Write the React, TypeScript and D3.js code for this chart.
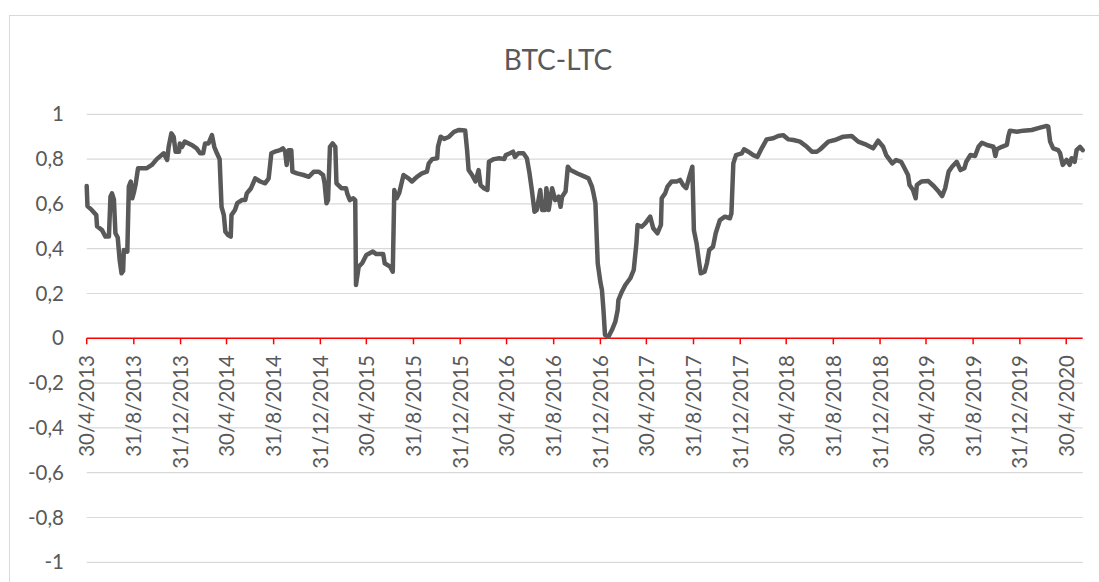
import React from "react";
import * as d3 from "d3";

const W = 1099;
const H = 582;

const title = "BTC-LTC";

const yTicks = [-1, -0.8, -0.6, -0.4, -0.2, 0, 0.2, 0.4, 0.6, 0.8, 1];

const xTickDates = [
  "2013-04-30", "2013-08-31", "2013-12-31", "2014-04-30", "2014-08-31", "2014-12-31",
  "2015-04-30", "2015-08-31", "2015-12-31", "2016-04-30", "2016-08-31", "2016-12-31",
  "2017-04-30", "2017-08-31", "2017-12-31", "2018-04-30", "2018-08-31", "2018-12-31",
  "2019-04-30", "2019-08-31", "2019-12-31", "2020-04-30",
];

const domainDates = ["2013-04-30", "2020-06-12"];

const btcLtc: [string, number][] = [
  ["2013-04-30", 0.68], ["2013-05-02", 0.59], ["2013-05-13", 0.573], ["2013-05-25", 0.55], ["2013-05-27", 0.5],
  ["2013-06-09", 0.483], ["2013-06-18", 0.454], ["2013-06-27", 0.454], ["2013-07-01", 0.632], ["2013-07-05", 0.647],
  ["2013-07-10", 0.62], ["2013-07-14", 0.469], ["2013-07-20", 0.45], ["2013-07-25", 0.35], ["2013-07-30", 0.29],
  ["2013-08-03", 0.3], ["2013-08-05", 0.394], ["2013-08-14", 0.387], ["2013-08-18", 0.677], ["2013-08-23", 0.7],
  ["2013-08-27", 0.625],
  ["2013-08-31", 0.65], ["2013-09-05", 0.69], ["2013-09-11", 0.759], ["2013-10-03", 0.759], ["2013-10-17", 0.774],
  ["2013-10-30", 0.8], ["2013-11-17", 0.826], ["2013-11-26", 0.796], ["2013-11-30", 0.855], ["2013-12-07", 0.915],
  ["2013-12-13", 0.9], ["2013-12-18", 0.833], ["2013-12-27", 0.833], ["2013-12-29", 0.87],
  ["2014-01-04", 0.855], ["2014-01-11", 0.878], ["2014-01-29", 0.863], ["2014-02-11", 0.848], ["2014-02-20", 0.826],
  ["2014-02-28", 0.826], ["2014-03-05", 0.87], ["2014-03-14", 0.87], ["2014-03-23", 0.907], ["2014-03-29", 0.855],
  ["2014-04-05", 0.826], ["2014-04-12", 0.8], ["2014-04-17", 0.587], ["2014-04-23", 0.55], ["2014-04-27", 0.476],
  ["2014-05-04", 0.461], ["2014-05-11", 0.454], ["2014-05-13", 0.55], ["2014-05-22", 0.573], ["2014-05-28", 0.603],
  ["2014-06-09", 0.617], ["2014-06-18", 0.617], ["2014-06-22", 0.647], ["2014-07-03", 0.67], ["2014-07-14", 0.714],
  ["2014-07-27", 0.7], ["2014-08-09", 0.692], ["2014-08-18", 0.714], ["2014-08-25", 0.826],
  ["2014-09-03", 0.833], ["2014-09-17", 0.84], ["2014-09-24", 0.848], ["2014-09-30", 0.833], ["2014-10-04", 0.774],
  ["2014-10-09", 0.84], ["2014-10-16", 0.84], ["2014-10-19", 0.744], ["2014-10-31", 0.736], ["2014-11-17", 0.729],
  ["2014-12-01", 0.721], ["2014-12-14", 0.744], ["2014-12-27", 0.744],
  ["2015-01-07", 0.729], ["2015-01-11", 0.692], ["2015-01-16", 0.603], ["2015-01-20", 0.617], ["2015-01-25", 0.855],
  ["2015-02-01", 0.87], ["2015-02-08", 0.855], ["2015-02-11", 0.692], ["2015-02-24", 0.67], ["2015-03-08", 0.67],
  ["2015-03-11", 0.647], ["2015-03-18", 0.617], ["2015-03-27", 0.625], ["2015-04-01", 0.617], ["2015-04-03", 0.238],
  ["2015-04-10", 0.32], ["2015-04-19", 0.335],
  ["2015-04-30", 0.372], ["2015-05-17", 0.387], ["2015-05-26", 0.376], ["2015-06-13", 0.376], ["2015-06-17", 0.335],
  ["2015-07-01", 0.32], ["2015-07-08", 0.297], ["2015-07-12", 0.662], ["2015-07-18", 0.625], ["2015-07-25", 0.65],
  ["2015-08-05", 0.729], ["2015-08-18", 0.714], ["2015-08-27", 0.7],
  ["2015-09-09", 0.721], ["2015-09-22", 0.736], ["2015-10-05", 0.744], ["2015-10-10", 0.781], ["2015-10-19", 0.8],
  ["2015-11-01", 0.804], ["2015-11-03", 0.855], ["2015-11-10", 0.9], ["2015-11-19", 0.89], ["2015-12-02", 0.9],
  ["2015-12-15", 0.922], ["2015-12-28", 0.93],
  ["2016-01-13", 0.928], ["2016-01-18", 0.84], ["2016-01-22", 0.751], ["2016-01-31", 0.729], ["2016-02-09", 0.7],
  ["2016-02-17", 0.751], ["2016-02-22", 0.684], ["2016-03-02", 0.67], ["2016-03-11", 0.662], ["2016-03-15", 0.788],
  ["2016-03-28", 0.8], ["2016-04-11", 0.804], ["2016-04-24", 0.8], ["2016-04-28", 0.818],
  ["2016-05-09", 0.826], ["2016-05-17", 0.833], ["2016-05-22", 0.81], ["2016-05-31", 0.826], ["2016-06-13", 0.826],
  ["2016-06-22", 0.804], ["2016-06-29", 0.736], ["2016-07-05", 0.662], ["2016-07-12", 0.565], ["2016-07-18", 0.573],
  ["2016-07-27", 0.662], ["2016-08-01", 0.573], ["2016-08-09", 0.573], ["2016-08-12", 0.67], ["2016-08-18", 0.573],
  ["2016-08-27", 0.67],
  ["2016-09-04", 0.617], ["2016-09-13", 0.632], ["2016-09-18", 0.587], ["2016-09-22", 0.632], ["2016-10-01", 0.655],
  ["2016-10-07", 0.766], ["2016-10-14", 0.751], ["2016-11-01", 0.736], ["2016-11-17", 0.724], ["2016-11-30", 0.714],
  ["2016-12-09", 0.677], ["2016-12-13", 0.647], ["2016-12-18", 0.603], ["2016-12-24", 0.335], ["2016-12-31", 0.25],
  ["2017-01-04", 0.216], ["2017-01-08", 0.126], ["2017-01-12", 0.015], ["2017-01-21", 0.007], ["2017-01-30", 0.037],
  ["2017-02-08", 0.074], ["2017-02-14", 0.126], ["2017-02-16", 0.171], ["2017-02-25", 0.208], ["2017-03-06", 0.238],
  ["2017-03-19", 0.268], ["2017-03-28", 0.305], ["2017-04-04", 0.424], ["2017-04-07", 0.506], ["2017-04-18", 0.498],
  ["2017-04-27", 0.513],
  ["2017-05-10", 0.543], ["2017-05-18", 0.491], ["2017-05-29", 0.469], ["2017-06-07", 0.506], ["2017-06-09", 0.625],
  ["2017-06-18", 0.647], ["2017-06-24", 0.677], ["2017-07-05", 0.7], ["2017-07-18", 0.7], ["2017-07-27", 0.707],
  ["2017-08-04", 0.684], ["2017-08-12", 0.67], ["2017-08-20", 0.721], ["2017-08-28", 0.766],
  ["2017-09-01", 0.483], ["2017-09-08", 0.424], ["2017-09-15", 0.335], ["2017-09-19", 0.29], ["2017-09-29", 0.297],
  ["2017-10-05", 0.335], ["2017-10-11", 0.394], ["2017-10-21", 0.409], ["2017-10-28", 0.469], ["2017-11-08", 0.528],
  ["2017-11-21", 0.543], ["2017-12-04", 0.536], ["2017-12-08", 0.558], ["2017-12-13", 0.781], ["2017-12-20", 0.818],
  ["2018-01-04", 0.826], ["2018-01-10", 0.844], ["2018-01-21", 0.833], ["2018-02-03", 0.818], ["2018-02-14", 0.81],
  ["2018-02-25", 0.848], ["2018-03-10", 0.888], ["2018-03-27", 0.893], ["2018-04-09", 0.903], ["2018-04-22", 0.907],
  ["2018-05-06", 0.888], ["2018-05-19", 0.885], ["2018-06-05", 0.878], ["2018-06-23", 0.855], ["2018-07-06", 0.833],
  ["2018-07-19", 0.833], ["2018-07-28", 0.844], ["2018-08-18", 0.878],
  ["2018-09-04", 0.885], ["2018-09-26", 0.9], ["2018-10-18", 0.903], ["2018-11-04", 0.878], ["2018-11-21", 0.867],
  ["2018-12-13", 0.848], ["2018-12-26", 0.882],
  ["2019-01-08", 0.855], ["2019-01-16", 0.818], ["2019-02-01", 0.781], ["2019-02-11", 0.796], ["2019-02-24", 0.788],
  ["2019-03-05", 0.759], ["2019-03-14", 0.729], ["2019-03-18", 0.684], ["2019-03-27", 0.662], ["2019-04-03", 0.625],
  ["2019-04-06", 0.684], ["2019-04-18", 0.7],
  ["2019-05-06", 0.702], ["2019-05-20", 0.68], ["2019-06-02", 0.655], ["2019-06-11", 0.635], ["2019-06-19", 0.67],
  ["2019-06-28", 0.744], ["2019-07-07", 0.766], ["2019-07-19", 0.788], ["2019-07-29", 0.751], ["2019-08-08", 0.759],
  ["2019-08-13", 0.788], ["2019-08-24", 0.818],
  ["2019-09-05", 0.814], ["2019-09-14", 0.855], ["2019-09-23", 0.873], ["2019-10-06", 0.863], ["2019-10-23", 0.855],
  ["2019-10-28", 0.814], ["2019-11-01", 0.844], ["2019-11-14", 0.855], ["2019-11-27", 0.863], ["2019-12-01", 0.903],
  ["2019-12-05", 0.927], ["2019-12-23", 0.922],
  ["2020-01-09", 0.927], ["2020-01-31", 0.93], ["2020-02-17", 0.938], ["2020-03-10", 0.948], ["2020-03-14", 0.945],
  ["2020-03-19", 0.878], ["2020-03-27", 0.848], ["2020-04-09", 0.84], ["2020-04-14", 0.826], ["2020-04-21", 0.774],
  ["2020-05-01", 0.796], ["2020-05-09", 0.774], ["2020-05-14", 0.804], ["2020-05-22", 0.788], ["2020-05-27", 0.84],
  ["2020-06-05", 0.855], ["2020-06-12", 0.84],
];

const parse = d3.timeParse("%Y-%m-%d");
const fmtTick = d3.timeFormat("%-d/%-m/%Y");
const fmtY = d3
  .formatLocale({ decimal: ",", thousands: ".", grouping: [3], currency: ["", "€"], minus: "-" })
  .format("~g");

const FONT = "Lato, 'Open Sans', sans-serif";
const TEXT = "#595959";
const GRID = "#d9d9d9";

export default function App() {
  const x = d3
    .scaleTime()
    .domain(domainDates.map((d) => parse(d) as Date))
    .range([86.7, 1082.7]);
  const y = d3.scaleLinear().domain([-1, 1]).range([562.3, 114.3]);

  const pts = btcLtc.map(([d, v]) => [parse(d) as Date, v] as [Date, number]);
  const line = d3
    .line<[Date, number]>()
    .x((d) => x(d[0]))
    .y((d) => y(d[1]));

  const [x0, x1] = x.range();
  const zeroY = y(0);

  return (
    <svg
      width={W}
      height={H}
      style={{ position: "absolute", left: 0, top: 0, background: "#fff" }}
    >
      <rect x={0} y={0} width={W} height={H} fill="#fff" />
      <rect x={9.5} y={15.5} width={1120} height={620} fill="#fff" stroke={GRID} strokeWidth={1} />
      <text
        x={558}
        y={69.5}
        textAnchor="middle"
        fontFamily={FONT}
        fontSize={28}
        fill={TEXT}
      >
        {title}
      </text>
      {yTicks.map((t) => (
        <g key={t}>
          {t !== 0 && (
            <line x1={x0} x2={x1} y1={y(t)} y2={y(t)} stroke={GRID} strokeWidth={1.2} />
          )}
          <text
            x={64}
            y={y(t) + 7}
            textAnchor="end"
            fontFamily={FONT}
            fontSize={20.5}
            fill={TEXT}
          >
            {fmtY(t)}
          </text>
        </g>
      ))}
      <line x1={x0} x2={x1} y1={zeroY} y2={zeroY} stroke="#ff0000" strokeWidth={1.5} />
      {xTickDates.map((d) => {
        const tx = x(parse(d) as Date);
        return (
          <g key={d}>
            <line x1={tx} x2={tx} y1={zeroY} y2={zeroY + 6} stroke="#ff0000" strokeWidth={1.5} />
            <text
              transform={`translate(${tx + 7.5},${355}) rotate(-90)`}
              textAnchor="end"
              fontFamily={FONT}
              fontSize={20.5}
              fill={TEXT}
            >
              {fmtTick(parse(d) as Date)}
            </text>
          </g>
        );
      })}
      <path
        d={line(pts) || ""}
        fill="none"
        stroke="#595959"
        strokeWidth={4.5}
        strokeLinejoin="round"
        strokeLinecap="round"
      />
    </svg>
  );
}
